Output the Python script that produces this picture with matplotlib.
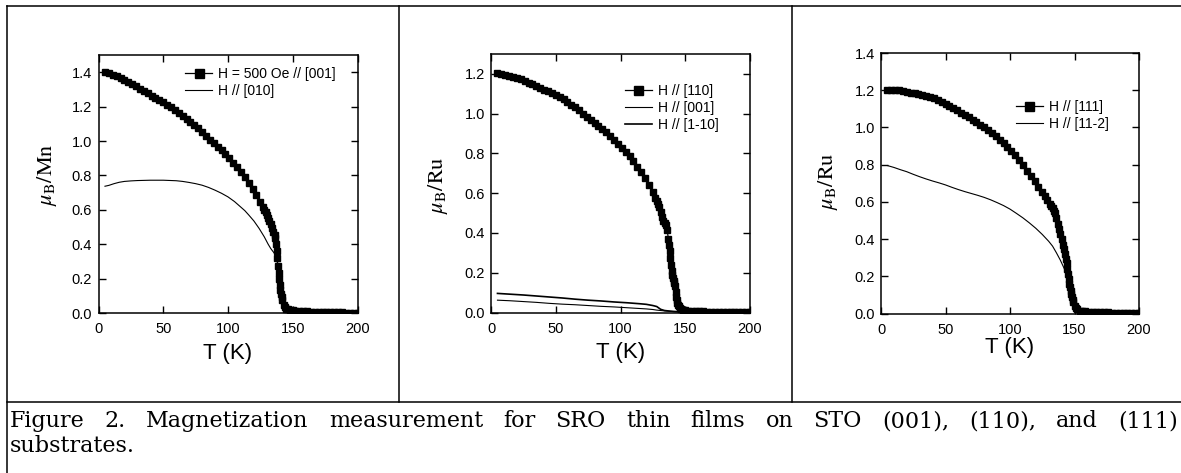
import matplotlib
matplotlib.use("Agg")
import matplotlib.pyplot as plt
from matplotlib.lines import Line2D

# ---------------- data ----------------
# Panel (a): SRO on STO(001)
T1_sq = [5, 8, 11, 14, 17, 20, 23, 26, 29, 32, 35, 38, 41, 44, 47, 50, 53, 56, 59, 62,
         65, 68, 71, 74, 77, 80, 83, 86, 89, 92, 95, 98, 101, 104, 107, 110, 113, 116, 119, 122,
         125, 127, 128, 129, 130, 131, 132, 133, 134, 135, 136, 136.5, 137, 137.5, 138, 138.5,
         139, 139.5, 140, 140.5, 141, 141.5, 142, 143, 144, 145, 146, 148, 150, 152,
         155, 158, 161, 164, 167, 170, 173, 176, 179, 182, 185, 188, 191, 194, 197, 200]
M1_sq = [1.400, 1.394, 1.386, 1.377, 1.366, 1.353, 1.343, 1.332, 1.319, 1.305, 1.292, 1.277,
         1.263, 1.248, 1.236, 1.224, 1.210, 1.195, 1.180, 1.164, 1.148, 1.130, 1.111, 1.093,
         1.073, 1.052, 1.030, 1.008, 0.988, 0.968, 0.945, 0.923, 0.900, 0.875, 0.848, 0.820,
         0.790, 0.755, 0.720, 0.685, 0.645, 0.615, 0.600, 0.585, 0.570, 0.553, 0.535, 0.515,
         0.492, 0.472, 0.455, 0.435, 0.400, 0.360, 0.320, 0.275, 0.230, 0.195, 0.160, 0.133,
         0.110, 0.092, 0.075, 0.048, 0.032, 0.025, 0.021, 0.018, 0.016, 0.014,
         0.012, 0.010, 0.009, 0.008, 0.007, 0.006, 0.005, 0.005, 0.004, 0.004, 0.003, 0.003,
         0.002, 0.002, 0.002, 0.002]
T1_ln = [5, 8, 12, 16, 20, 25, 30, 40, 50, 60, 65, 70, 75, 80, 85, 90, 95, 100, 105, 110,
         113, 116, 120, 124, 128, 131, 133, 135, 136, 137, 138, 139, 140, 141, 142, 143, 144,
         145, 147, 150, 155, 160, 170, 180, 190, 200]
M1_ln = [0.737, 0.742, 0.752, 0.760, 0.765, 0.768, 0.770, 0.772, 0.772, 0.769, 0.765, 0.759,
         0.752, 0.743, 0.730, 0.714, 0.696, 0.675, 0.648, 0.615, 0.595, 0.570, 0.535, 0.492,
         0.443, 0.400, 0.375, 0.355, 0.345, 0.330, 0.300, 0.225, 0.160, 0.110, 0.075, 0.048,
         0.032, 0.025, 0.019, 0.016, 0.012, 0.010, 0.007, 0.005, 0.003, 0.002]

# Panel (b): SRO on STO(110)
T2_sq = [5, 8, 11, 14, 17, 20, 23, 26, 29, 32, 35, 38, 41, 44, 47, 50, 53, 56, 59, 62,
         65, 68, 71, 74, 77, 80, 83, 86, 89, 92, 95, 98, 101, 104, 107, 110, 113, 116, 119, 122,
         125, 127, 128, 129, 130, 131, 132, 133, 134, 135, 136,
         137, 137.5, 138, 138.5, 139, 139.5, 140, 140.5, 141, 141.5, 142, 142.5, 143, 143.5,
         144, 144.5, 145, 146, 147, 148, 150, 152,
         155, 158, 161, 164, 167, 170, 173, 176, 179, 182, 185, 188, 191, 194, 197, 200]
M2_sq = [1.202, 1.198, 1.193, 1.188, 1.183, 1.177, 1.172, 1.164, 1.156, 1.147, 1.138, 1.128,
         1.120, 1.113, 1.105, 1.096, 1.085, 1.073, 1.060, 1.046, 1.031, 1.016, 1.000, 0.985,
         0.970, 0.955, 0.940, 0.925, 0.908, 0.890, 0.868, 0.848, 0.828, 0.808, 0.785, 0.760,
         0.733, 0.705, 0.675, 0.643, 0.605, 0.578, 0.563, 0.547, 0.530, 0.505, 0.478, 0.458,
         0.452, 0.440, 0.415,
         0.370, 0.340, 0.310, 0.275, 0.240, 0.210, 0.190, 0.172, 0.160, 0.150, 0.135, 0.105,
         0.080, 0.062, 0.050, 0.040, 0.033, 0.024, 0.018, 0.014, 0.011, 0.009,
         0.008, 0.007, 0.006, 0.006, 0.005, 0.005, 0.004, 0.004, 0.003, 0.003, 0.003, 0.002,
         0.002, 0.002, 0.002, 0.002]
T2_ln = [5, 15, 25, 35, 45, 55, 65, 75, 85, 95, 105, 115, 120, 125, 128, 131, 134, 138, 142,
         146, 150, 160, 170, 180, 190, 200]
M2_ln_1m10 = [0.096, 0.092, 0.088, 0.083, 0.078, 0.073, 0.067, 0.062, 0.058, 0.053, 0.049,
              0.044, 0.041, 0.035, 0.030, 0.016, 0.010, 0.007, 0.005, 0.004, 0.003, 0.002,
              0.002, 0.001, 0.001, 0.001]
M2_ln_001 = [0.062, 0.059, 0.055, 0.051, 0.046, 0.042, 0.039, 0.035, 0.031, 0.028, 0.024,
             0.020, 0.018, 0.015, 0.012, 0.010, 0.008, 0.006, 0.004, 0.003, 0.002, 0.002,
             0.001, 0.001, 0.001, 0.001]

# Panel (c): SRO on STO(111)
T3_sq = [5, 8, 11, 14, 17, 20, 23, 26, 29, 32, 35, 38, 41, 44, 47, 50, 53, 56, 59, 62,
         65, 68, 71, 74, 77, 80, 83, 86, 89, 92, 95, 98, 101, 104, 107, 110, 113, 116, 119, 122,
         125, 127, 129, 131, 132, 133, 134, 135, 136,
         137, 138, 139, 140, 141, 142,
         143, 143.5, 144, 144.5, 145, 145.5, 146, 146.5, 147, 147.5, 148, 148.5, 149,
         150, 151, 152, 154, 156, 158,
         161, 164, 167, 170, 173, 176, 179, 182, 185, 188, 191, 194, 197, 200]
M3_sq = [1.203, 1.203, 1.202, 1.200, 1.196, 1.192, 1.187, 1.184, 1.181, 1.176, 1.170, 1.163,
         1.156, 1.148, 1.139, 1.128, 1.117, 1.105, 1.093, 1.080, 1.067, 1.054, 1.041, 1.029,
         1.015, 1.000, 0.985, 0.970, 0.953, 0.935, 0.915, 0.895, 0.875, 0.850, 0.823, 0.796,
         0.768, 0.740, 0.711, 0.682, 0.652, 0.632, 0.612, 0.590, 0.578, 0.565, 0.552, 0.540,
         0.515,
         0.480, 0.455, 0.425, 0.400, 0.370, 0.345,
         0.318, 0.295, 0.270, 0.240, 0.210, 0.185, 0.160, 0.140, 0.120, 0.105, 0.090, 0.075,
         0.060,
         0.040, 0.028, 0.022, 0.016, 0.013, 0.011,
         0.010, 0.009, 0.008, 0.007, 0.006, 0.006, 0.005, 0.005, 0.004, 0.004, 0.003, 0.003,
         0.002, 0.002]
T3_ln = [5, 10, 15, 20, 25, 30, 35, 40, 45, 50, 55, 60, 65, 70, 75, 80, 85, 90, 95, 100,
         105, 110, 115, 120, 125, 130, 133, 136, 139, 142, 144, 146, 147, 148, 149, 150, 151,
         153, 156, 160, 170, 180, 190, 200]
M3_ln = [0.795, 0.785, 0.773, 0.762, 0.748, 0.735, 0.723, 0.712, 0.702, 0.691, 0.678, 0.666,
         0.655, 0.645, 0.635, 0.624, 0.611, 0.596, 0.580, 0.561, 0.538, 0.514, 0.487, 0.458,
         0.425, 0.388, 0.362, 0.326, 0.287, 0.242, 0.205, 0.160, 0.130, 0.100, 0.070, 0.045,
         0.030, 0.018, 0.012, 0.009, 0.006, 0.004, 0.003, 0.002]

x_ticks = [0, 50, 100, 150, 200]
y_ticks_a = [0.0, 0.2, 0.4, 0.6, 0.8, 1.0, 1.2, 1.4]
y_ticks_b = [0.0, 0.2, 0.4, 0.6, 0.8, 1.0, 1.2]
y_ticks_c = [0.0, 0.2, 0.4, 0.6, 0.8, 1.0, 1.2, 1.4]

labels_a = ["H = 500 Oe // [001]", "H // [010]"]
labels_b = ["H // [110]", "H // [001]", "H // [1-10]"]
labels_c = ["H // [111]", "H // [11-2]"]
ylabels = [r"$\mu_{\rm B}{\rm /Mn}$", r"$\mu_{\rm B}{\rm /Ru}$", r"$\mu_{\rm B}{\rm /Ru}$"]
xlabel = "T (K)"
caption1 = "Figure 2. Magnetization measurement for SRO thin films on STO (001), (110), and (111)"
caption2 = "substrates."

# ---------------- figure ----------------
W, H = 1181, 473
plt.rcParams["font.family"] = ["Liberation Sans", "DejaVu Sans"]
plt.rcParams["mathtext.fontset"] = "stix"
fig = plt.figure(figsize=(W / 100, H / 100), dpi=100)
fig.patch.set_facecolor("white")


def add_ax(l, r, t, b):
    return fig.add_axes([l / W, 1 - b / H, (r - l) / W, (b - t) / H])


boxes = [(98.5, 357.5, 55, 313), (491, 750, 54, 312.5), (881, 1139, 53, 313.5)]
ylims = [(0, 1.5), (0, 1.3), (0, 1.4)]
yticks = [y_ticks_a, y_ticks_b, y_ticks_c]
leg_anchor = [(0.334, 0.953), (0.517, 0.884), (0.523, 0.82)]
ylab_pos = [(47, 175), (438, 185), (828, 181)]
xlab_y = [353, 352, 347]

axes = [add_ax(*b) for b in boxes]

sq_kw = dict(marker="s", ms=4.8, color="k", mfc="k", mec="k", lw=0.9)

a = axes[0]
a.plot(T1_ln, M1_ln, color="k", lw=0.8, label=labels_a[1], zorder=2)
a.plot(T1_sq, M1_sq, label=labels_a[0], zorder=3, **sq_kw)
ha = a.get_legend_handles_labels()[0]
handles_a = [ha[1], ha[0]]

b = axes[1]
b.plot(T2_ln, M2_ln_001, color="k", lw=0.8, label=labels_b[1], zorder=2)
b.plot(T2_ln, M2_ln_1m10, color="k", lw=1.2, label=labels_b[2], zorder=2)
b.plot(T2_sq, M2_sq, label=labels_b[0], zorder=3, **sq_kw)
hb = b.get_legend_handles_labels()[0]
handles_b = [hb[2], hb[0], hb[1]]

c = axes[2]
c.plot(T3_ln, M3_ln, color="k", lw=0.8, label=labels_c[1], zorder=2)
c.plot(T3_sq, M3_sq, label=labels_c[0], zorder=3, **sq_kw)
hc = c.get_legend_handles_labels()[0]
handles_c = [hc[1], hc[0]]

all_handles = [handles_a, handles_b, handles_c]

for i, ax in enumerate(axes):
    l, r, t, bt = boxes[i]
    ax.set_xlim(0, 200)
    ax.set_ylim(*ylims[i])
    ax.set_xticks(x_ticks)
    ax.set_yticks(yticks[i])
    ax.set_xticklabels([str(v) for v in x_ticks])
    ax.set_yticklabels(["%.1f" % v for v in yticks[i]])
    ax.tick_params(direction="in", top=True, right=True, length=5, width=1.0,
                   labelsize=10.5, colors="k")
    ax.tick_params(axis="x", pad=6.5)
    ax.tick_params(axis="y", pad=4.5)
    for s in ax.spines.values():
        s.set_linewidth(1.1)
        s.set_color("k")
    ax.set_xlabel(xlabel, fontsize=16)
    ax.xaxis.set_label_coords(0.5, (bt - xlab_y[i]) / (bt - t))
    ax.xaxis.label.set_va("center")
    ax.set_ylabel(ylabels[i], fontsize=16)
    yx, yy = ylab_pos[i]
    ax.yaxis.set_label_coords((yx - l) / (r - l), (bt - yy) / (bt - t))
    ax.yaxis.label.set_va("center")
    ax.yaxis.label.set_ha("center")
    ax.legend(handles=all_handles[i], loc="upper left",
              bbox_to_anchor=leg_anchor[i], frameon=False, fontsize=10,
              handlelength=1.95, handletextpad=0.4, labelspacing=0.2,
              borderpad=0, borderaxespad=0, markerscale=1.35, numpoints=1)


# table frame lines (figure pixel coordinates)
def hline(y, x0, x1):
    fig.add_artist(Line2D([x0 / W, x1 / W], [1 - y / H, 1 - y / H], color="k", lw=1.1))


def vline(x, y0, y1):
    fig.add_artist(Line2D([x / W, x / W], [1 - y0 / H, 1 - y1 / H], color="k", lw=1.1))


hline(6.5, 6.5, 1181)
hline(402, 6.5, 1181)
vline(7, 6.5, 473)
vline(399, 6.5, 402)
vline(792, 6.5, 402)

# caption, first line justified
cap_font = dict(family="DejaVu Serif", fontsize=16, color="k")
fig.canvas.draw()
renderer = fig.canvas.get_renderer()
words = caption1.split()
texts = [fig.text(0, 0, w, **cap_font) for w in words]
widths = [t.get_window_extent(renderer).width for t in texts]
x_left, x_right = 10, 1178
gap = (x_right - x_left - sum(widths)) / (len(words) - 1)
x = x_left
for t, w in zip(texts, widths):
    t.set_position((x / W, 1 - 427 / H))
    t.set_va("baseline")
    x += w + gap
fig.text(10 / W, 1 - 452 / H, caption2, va="baseline", **cap_font)

fig.savefig("out.png", dpi=100, facecolor="white")
